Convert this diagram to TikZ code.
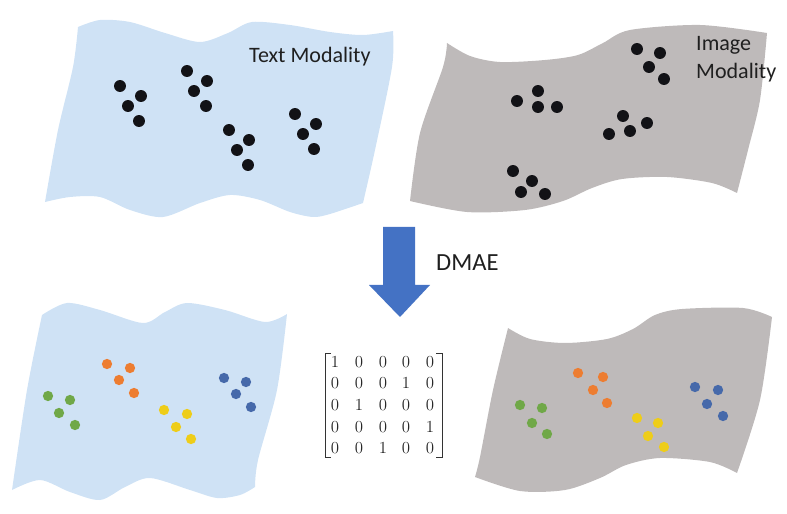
\documentclass[tikz,border=0pt]{standalone}
\usepackage{fontspec}
\setmainfont{Carlito}
\definecolor{flagblue}{RGB}{207,226,245}
\definecolor{flaggray}{RGB}{190,186,186}
\definecolor{dotk}{RGB}{18,18,22}
\definecolor{cor}{RGB}{237,125,49}
\definecolor{cgr}{RGB}{112,168,72}
\definecolor{cye}{RGB}{238,205,25}
\definecolor{cbl}{RGB}{70,105,170}
\definecolor{arrowblue}{RGB}{68,114,196}
\tikzset{
  kdot/.style={fill=dotk},
  label text/.style={font=\fontsize{18.8}{23}\selectfont, text=black!88, inner sep=0pt},
  entry/.style={inner sep=0pt, font=\fontsize{15}{18}\selectfont, text=black!85},
  bracket/.style={line width=0.8pt, black!80},
}
\begin{document}
\begin{tikzpicture}[x=0.03cm,y=-0.03cm]
\useasboundingbox (0,0) rectangle (787,514);

% ---------- top-left flag (text modality)
\fill[flagblue]
  plot[smooth] coordinates {(78,27) (100,20) (130,22) (165,33) (200,42) (228,33) (252,22) (290,25) (330,32) (363,35) (393,31)}
  -- plot[smooth] coordinates {(393,31) (392,67) (375,150) (363,203)}
  -- plot[smooth] coordinates {(363,203) (330,214) (313,217) (290,212) (260,200) (230,195) (200,203) (163,217) (130,210) (100,197) (70,197) (45,202)}
  -- plot[smooth] coordinates {(45,202) (58,130) (73,67) (78,27)}
  -- cycle;

% ---------- top-right flag (image modality)
\fill[flaggray]
  plot[smooth] coordinates {(447,43) (470,56) (500,62) (545,60) (578,55) (603,43) (630,30) (700,25) (767,33)}
  -- plot[smooth] coordinates {(767,33) (760,100) (748,150) (737,193)}
  -- plot[smooth] coordinates {(737,193) (712,183) (667,177) (622,179) (592,188) (563,201) (525,210) (467,212) (410,201)}
  -- plot[smooth] coordinates {(410,201) (420,133) (443,67) (447,43)}
  -- cycle;

% ---------- bottom-left flag
\fill[flagblue]
  plot[smooth] coordinates {(42,315) (67,303) (100,310) (143,323) (165,312) (187,303) (225,310) (265,322) (287,314)}
  -- plot[smooth] coordinates {(287,314) (277,390) (258,460) (255,487)}
  -- plot[smooth] coordinates {(255,487) (240,495) (217,498) (190,490) (150,478) (125,487) (100,500) (70,492) (40,480) (12,490)}
  -- plot[smooth] coordinates {(12,490) (27,390) (42,315)}
  -- cycle;

% ---------- bottom-right flag
\fill[flaggray]
  plot[smooth] coordinates {(508,328) (530,339) (565,343) (607,339) (633,329) (655,315) (682,309) (743,308) (772,317)}
  -- plot[smooth] coordinates {(772,317) (760,400) (737,473)}
  -- plot[smooth] coordinates {(737,473) (710,462) (660,458) (626,465) (600,478) (565,490) (520,491) (475,477)}
  -- plot[smooth] coordinates {(475,477) (480,457) (493,390) (508,328)}
  -- cycle;

% ---------- black dots, top-left
\foreach \p in {(120,86),(141,96),(128,106),(139,121),
                (187,71),(207,81),(194,91),(206,106),
                (229,130),(249,140),(237,150),(248,165),
                (295,114),(316,124),(303,134),(314,149)}
  \fill[kdot] \p circle[radius=5.1pt];

% ---------- black dots, top-right
\foreach \p in {(637,49),(660,53),(649,67),(664,79),
                (538,91),(517,101),(538,107),(557,107),
                (623,116),(647,123),(630,131),(609,134),
                (513,171),(532,181),(521,192),(545,194)}
  \fill[kdot] \p circle[radius=5.1pt];

% ---------- coloured dots, bottom-left
\foreach \p in {(107,364),(130,368),(119,380),(134,393)} \fill[cor] \p circle[radius=4.4pt];
\foreach \p in {(48,396),(70,400),(59,413),(75,425)} \fill[cgr] \p circle[radius=4.4pt];
\foreach \p in {(164,410),(187,414),(176,427),(191,439)} \fill[cye] \p circle[radius=4.4pt];
\foreach \p in {(224,378),(246,382),(236,394),(251,407)} \fill[cbl] \p circle[radius=4.4pt];

% ---------- coloured dots, bottom-right
\foreach \p in {(578,373),(603,377),(593,390),(607,403)} \fill[cor] \p circle[radius=4.4pt];
\foreach \p in {(520,405),(542,408),(532,423),(547,434)} \fill[cgr] \p circle[radius=4.4pt];
\foreach \p in {(637,418),(658,423),(648,436),(664,447)} \fill[cye] \p circle[radius=4.4pt];
\foreach \p in {(695,387),(718,390),(707,404),(723,416)} \fill[cbl] \p circle[radius=4.4pt];

% ---------- labels
\node[label text, anchor=base west] (txtmod) at (249,62.5) {Text Modality};
\node[label text, anchor=base west] (imgA) at (696,51) {Image};
\node[label text, anchor=base west] (imgB) at (696,79) {Modality};
\node[label text, anchor=base west, font=\fontsize{21}{25}\selectfont] (dmae) at (436,271) {DMAE};

% ---------- down arrow
\fill[arrowblue] (383,227) -- (415,227) -- (415,285) -- (430,285) -- (400,317) -- (369,285) -- (383,285) -- cycle;

% ---------- matrix
\foreach \r/\yy/\ea/\eb/\ec/\ed/\ee in {1/362/1/0/0/0/0, 2/383/0/0/0/1/0, 3/405/0/1/0/0/0, 4/427/0/0/0/0/1, 5/448/0/0/1/0/0}{
  \node[entry] (m-\r-1) at (335,\yy) {$\ea$};
  \node[entry] (m-\r-2) at (359,\yy) {$\eb$};
  \node[entry] (m-\r-3) at (383,\yy) {$\ec$};
  \node[entry] (m-\r-4) at (406,\yy) {$\ed$};
  \node[entry] (m-\r-5) at (430,\yy) {$\ee$};
}
\draw[bracket] (331,353) -- (325,353) -- (325,457) -- (331,457);
\draw[bracket] (436,353) -- (442,353) -- (442,457) -- (436,457);
\end{tikzpicture}
\end{document}
